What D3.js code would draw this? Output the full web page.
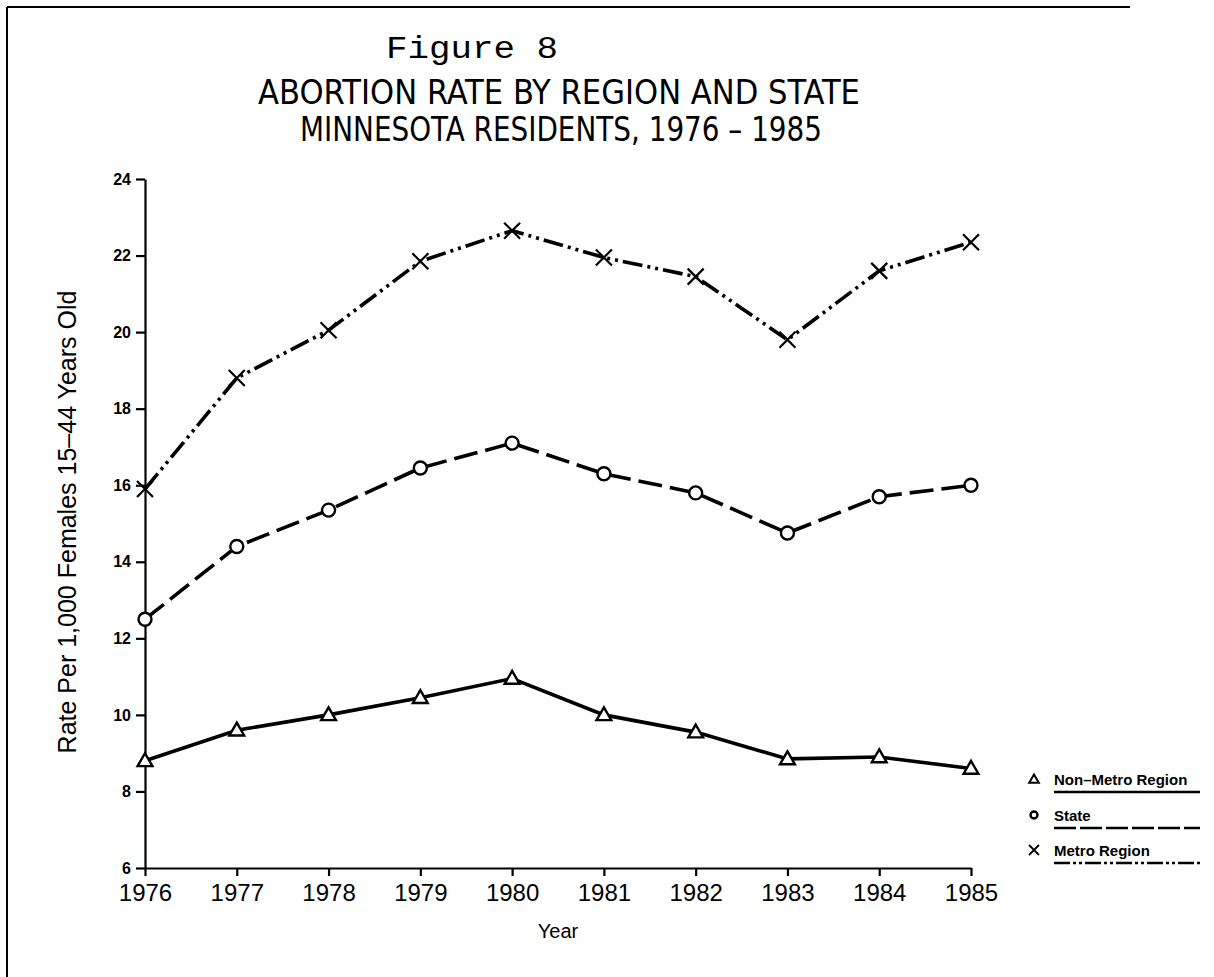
<!DOCTYPE html>
<head>
    <meta charset="utf-8">
    <title>Figure 8</title>
    <script src="https://d3js.org/d3.v7.min.js"></script>
    <style>
        body { margin: 0; background: #fff; }
        .axis path, .axis line { stroke: #000; stroke-width: 2.2; }
        .y-axis text { font-family: "Liberation Sans", sans-serif; font-size: 16px; font-weight: bold; }
        .x-axis text { font-family: "Liberation Sans", sans-serif; font-size: 24px; }
        .series { fill: none; stroke: #000; stroke-width: 3.6; }
        .marker { fill: #fff; stroke: #000; stroke-width: 2.4; }
    </style>
</head>
<body>
<svg width="1214" height="977"></svg>
<script>
    var years = [1976, 1977, 1978, 1979, 1980, 1981, 1982, 1983, 1984, 1985];
    var yTicks = [6, 8, 10, 12, 14, 16, 18, 20, 22, 24];

    // rates per 1,000 females 15-44
    var nonMetro = [8.8, 9.6, 10.0, 10.45, 10.95, 10.0, 9.55, 8.85, 8.9, 8.6];
    var stateRate = [12.5, 14.4, 15.35, 16.45, 17.1, 16.3, 15.8, 14.75, 15.7, 16.0];
    var metro = [15.9, 18.8, 20.05, 21.85, 22.65, 21.95, 21.45, 19.8, 21.6, 22.35];

    var seriesNames = ["Non\u2013Metro Region", "State", "Metro Region"];
    var seriesValues = [nonMetro, stateRate, metro];
    var seriesDash = [null, "24,8", "20,5,3,5,3,5"];
    var seriesMarker = ["triangle", "circle", "cross"];

    var svg = d3.select("svg");

    // page frame (scan edge)
    svg.append("line").attr("x1", 7).attr("x2", 1130).attr("y1", 7).attr("y2", 7)
            .attr("stroke", "#000").attr("stroke-width", 2);
    svg.append("line").attr("x1", 7).attr("x2", 7).attr("y1", 7).attr("y2", 977)
            .attr("stroke", "#000").attr("stroke-width", 2);

    var x = d3.scaleLinear().domain([1976, 1985]).range([145, 971]);
    var y = d3.scaleLinear().domain([6, 24]).range([868, 179]);

    // titles
    svg.append("text")
            .attr("x", 472).attr("y", 58)
            .attr("text-anchor", "middle")
            .attr("textLength", 172).attr("lengthAdjust", "spacingAndGlyphs")
            .style("font-family", "'Liberation Mono', monospace")
            .style("font-size", "31px")
            .text("Figure 8");
    svg.append("text")
            .attr("x", 559).attr("y", 104)
            .attr("text-anchor", "middle")
            .attr("textLength", 602).attr("lengthAdjust", "spacingAndGlyphs")
            .style("font-family", "'Liberation Sans Narrow', 'DejaVu Sans Condensed', sans-serif")
            .style("font-size", "34px")
            .text("ABORTION RATE BY REGION AND STATE");
    svg.append("text")
            .attr("x", 561).attr("y", 141)
            .attr("text-anchor", "middle")
            .attr("textLength", 522).attr("lengthAdjust", "spacingAndGlyphs")
            .style("font-family", "'Liberation Sans Narrow', 'DejaVu Sans Condensed', sans-serif")
            .style("font-size", "34px")
            .text("MINNESOTA RESIDENTS, 1976 \u2013 1985");

    // axes
    svg.append("g")
            .attr("class", "axis y-axis")
            .attr("transform", "translate(" + x(1976) + ",0)")
            .call(d3.axisLeft(y).tickValues(yTicks).tickSize(9).tickSizeOuter(0).tickPadding(5));

    svg.append("g")
            .attr("class", "axis x-axis")
            .attr("transform", "translate(0," + y(6) + ")")
            .call(d3.axisBottom(x).tickValues(years).tickFormat(d3.format("d")).tickSize(8).tickSizeOuter(0).tickPadding(8));

    svg.append("text")
            .attr("x", 558).attr("y", 938)
            .attr("text-anchor", "middle")
            .style("font-family", "'Liberation Sans', sans-serif")
            .style("font-size", "20px")
            .text("Year");

    svg.append("text")
            .attr("transform", "translate(76,522) rotate(-90)")
            .attr("text-anchor", "middle")
            .style("font-family", "'Liberation Sans', sans-serif")
            .style("font-size", "25px")
            .text("Rate Per 1,000 Females 15\u201344 Years Old");

    // lines
    var line = d3.line()
            .x(function (d, i) { return x(years[i]); })
            .y(function (d) { return y(d); });

    svg.append("g").selectAll("path")
            .data(seriesValues)
            .enter().append("path")
            .attr("class", "series")
            .attr("d", line)
            .attr("stroke-dasharray", function (d, i) { return seriesDash[i]; });

    var triangle = d3.symbol().type(d3.symbolTriangle).size(95);

    function drawMarker(sel, type, px, py) {
        if (type === "circle") {
            sel.append("circle").attr("class", "marker")
                    .attr("cx", px).attr("cy", py).attr("r", 6.5);
        } else if (type === "triangle") {
            sel.append("path").attr("class", "marker")
                    .attr("transform", "translate(" + px + "," + (py + 1) + ")")
                    .attr("d", triangle);
        } else {
            sel.append("path").attr("class", "marker")
                    .style("fill", "none").style("stroke-width", 2.2)
                    .attr("d", "M" + (px - 8) + "," + (py - 8) + "L" + (px + 8) + "," + (py + 8)
                            + "M" + (px - 8) + "," + (py + 8) + "L" + (px + 8) + "," + (py - 8));
        }
    }

    var markers = svg.append("g");
    seriesValues.forEach(function (vals, s) {
        vals.forEach(function (v, i) {
            drawMarker(markers, seriesMarker[s], x(years[i]), y(v));
        });
    });

    // legend
    var legendY = [779, 815, 850];
    var legendDash = [null, "22,4", "16,3,3,3,3,3"];
    var legend = svg.append("g");
    seriesNames.forEach(function (name, i) {
        var ly = legendY[i];
        if (seriesMarker[i] === "circle") {
            legend.append("circle").attr("cx", 1034).attr("cy", ly).attr("r", 3.5)
                    .attr("fill", "#fff").attr("stroke", "#000").attr("stroke-width", 2.4);
        } else if (seriesMarker[i] === "triangle") {
            legend.append("path").attr("transform", "translate(1034," + (ly + 1) + ")")
                    .attr("d", d3.symbol().type(d3.symbolTriangle).size(40))
                    .attr("fill", "#fff").attr("stroke", "#000").attr("stroke-width", 2);
        } else {
            legend.append("path")
                    .attr("d", "M1029," + (ly - 5) + "L1039," + (ly + 5) + "M1029," + (ly + 5) + "L1039," + (ly - 5))
                    .attr("stroke", "#000").attr("stroke-width", 1.8);
        }
        legend.append("text")
                .attr("x", 1054).attr("y", ly + 6)
                .style("font-family", "'Liberation Sans', sans-serif")
                .style("font-size", "15px")
                .style("font-weight", "bold")
                .text(name);
        legend.append("line")
                .attr("x1", 1054).attr("x2", 1200)
                .attr("y1", ly + 13).attr("y2", ly + 13)
                .attr("stroke", "#000").attr("stroke-width", 2.5)
                .attr("stroke-dasharray", legendDash[i]);
    });
</script>
</body>
